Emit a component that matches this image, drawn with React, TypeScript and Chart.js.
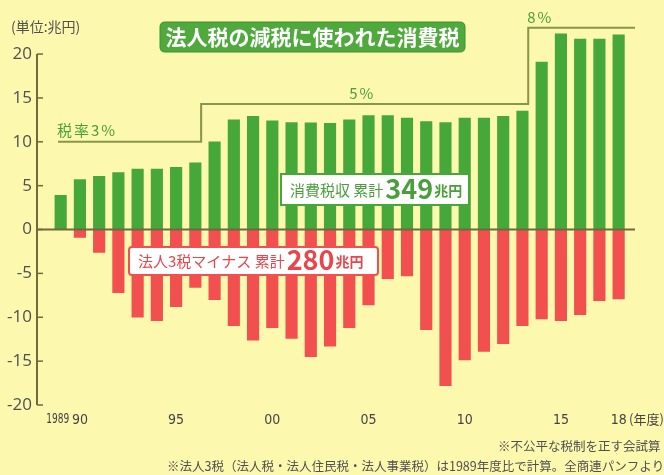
import React, { useEffect, useRef } from "react";
import { Chart, registerables } from "chart.js";

Chart.register(...registerables);

// ---- data ----
const years = [
  1989, 1990, 1991, 1992, 1993, 1994, 1995, 1996, 1997, 1998,
  1999, 2000, 2001, 2002, 2003, 2004, 2005, 2006, 2007, 2008,
  2009, 2010, 2011, 2012, 2013, 2014, 2015, 2016, 2017, 2018,
];
// 消費税収 (兆円)
const consumptionTax = [
  3.9, 5.7, 6.05, 6.5, 6.9, 6.9, 7.1, 7.6, 10.0, 12.5,
  12.9, 12.4, 12.2, 12.15, 12.1, 12.5, 13.0, 13.0, 12.7, 12.3,
  12.2, 12.7, 12.7, 12.9, 13.5, 19.1, 22.3, 21.7, 21.7, 22.2,
];
// 法人3税マイナス (兆円)
const corporateTaxCut = [
  0, -0.9, -2.6, -7.2, -10.0, -10.4, -8.8, -6.6, -8.0, -10.95,
  -12.6, -11.2, -12.4, -14.5, -13.3, -11.2, -8.6, -5.6, -5.3, -11.4,
  -17.8, -14.85, -13.9, -13.0, -10.95, -10.2, -10.4, -9.7, -8.1, -7.9,
];
// 税率 step line
const rateLabels = ["税率3%", "5%", "8%"];
const rateStartYears = [1989, 1997, 2014];
const rateLineLevels = [10, 14.3, 23];
// axis ticks
const xTickYears = [1989, 1990, 1995, 2000, 2005, 2010, 2015, 2018];
const xTickLabels = ["1989", "90", "95", "00", "05", "10", "15", "18"];
const yTickValues = [-20, -15, -10, -5, 0, 5, 10, 15, 20];

const titleText = "法人税の減税に使われた消費税";
const unitText = "(単位:兆円)";
const greenBoxTexts = ["消費税収 累計", "349", "兆円"];
const redBoxTexts = ["法人3税マイナス 累計", "280", "兆円"];
const footnote1 = "※不公平な税制を正す会試算";
const footnote2 = "※法人3税（法人税・法人住民税・法人事業税）は1989年度比で計算。全商連パンフより。";
const yearUnitText = "(年度)";

// ---- styles ----
const BG = "#fcf8ae";
const GREEN = "#47a83a";
const RED = "#f24f4f";
const AXIS = "#6f6b3c";
const RATE_LINE = "#86964a";
const TEXT_GRAY = "#505050";
const LABEL_GREEN = "#4a9e3c";
const LABEL_RED = "#e8464b";
const JP = '"Noto Sans CJK JP", "Noto Sans", sans-serif';
const TICK_FONT = '"Liberation Sans Narrow", "DejaVu Sans Condensed", "Roboto", sans-serif';

const X_MIN = -1.23;
const X_MAX = 29.85;
const Y_MIN = -20;
const Y_MAX = 24.43;

function buildRateLine() {
  const pts: { x: number; y: number }[] = [];
  for (let p = 0; p < rateStartYears.length; p++) {
    const si = years.indexOf(rateStartYears[p]);
    const startX = p === 0 ? si - 0.14 : si - 0.7;
    const endX =
      p === rateStartYears.length - 1
        ? X_MAX
        : years.indexOf(rateStartYears[p + 1]) - 0.7;
    pts.push({ x: startX, y: rateLineLevels[p] });
    pts.push({ x: endX, y: rateLineLevels[p] });
  }
  return pts;
}

function roundRect(ctx: CanvasRenderingContext2D, x: number, y: number, w: number, h: number, r: number) {
  ctx.beginPath();
  ctx.moveTo(x + r, y);
  ctx.lineTo(x + w - r, y);
  ctx.quadraticCurveTo(x + w, y, x + w, y + r);
  ctx.lineTo(x + w, y + h - r);
  ctx.quadraticCurveTo(x + w, y + h, x + w - r, y + h);
  ctx.lineTo(x + r, y + h);
  ctx.quadraticCurveTo(x, y + h, x, y + h - r);
  ctx.lineTo(x, y + r);
  ctx.quadraticCurveTo(x, y, x + r, y);
  ctx.closePath();
}

function drawBoxText(
  ctx: CanvasRenderingContext2D,
  texts: string[],
  x: number,
  yMid: number,
  color: string
) {
  ctx.fillStyle = color;
  ctx.textAlign = "left";
  ctx.textBaseline = "alphabetic";
  const base = yMid + 6;
  ctx.font = `15px ${JP}`;
  ctx.fillText(texts[0], x, base);
  let cx = x + ctx.measureText(texts[0]).width + 2;
  ctx.font = `bold 27px ${JP}`;
  ctx.fillText(texts[1], cx, base + 3);
  cx += ctx.measureText(texts[1]).width + 1;
  ctx.font = `bold 14px ${JP}`;
  ctx.fillText(texts[2], cx, base);
}

const decorPlugin = {
  id: "decor",
  beforeDraw(chart: any) {
    const ctx = chart.ctx as CanvasRenderingContext2D;
    ctx.save();
    ctx.fillStyle = BG;
    ctx.fillRect(0, 0, chart.width, chart.height);
    ctx.restore();
  },
  afterDatasetsDraw(chart: any) {
    const ctx = chart.ctx as CanvasRenderingContext2D;
    const { chartArea } = chart;
    const xs = chart.scales.x;
    const ys = chart.scales.y;
    ctx.save();

    // y axis line (20 .. -20)
    const yTop = ys.getPixelForValue(yTickValues[yTickValues.length - 1]);
    const yBot = ys.getPixelForValue(yTickValues[0]);
    ctx.strokeStyle = AXIS;
    ctx.lineWidth = 2;
    ctx.beginPath();
    ctx.moveTo(chartArea.left, yTop);
    ctx.lineTo(chartArea.left, yBot);
    ctx.stroke();

    // zero line
    const y0 = ys.getPixelForValue(0);
    ctx.beginPath();
    ctx.moveTo(chartArea.left, y0);
    ctx.lineTo(chartArea.right, y0);
    ctx.stroke();

    // inside tick marks on y axis
    ctx.lineWidth = 1.5;
    for (const v of yTickValues) {
      const py = ys.getPixelForValue(v);
      ctx.beginPath();
      ctx.moveTo(chartArea.left, py);
      ctx.lineTo(chartArea.left + 6, py);
      ctx.stroke();
    }

    // first x label, condensed
    ctx.fillStyle = "#444444";
    ctx.font = `14px ${TICK_FONT}`;
    ctx.textBaseline = "middle";
    ctx.textAlign = "center";
    const fx = xs.getPixelForValue(years.indexOf(xTickYears[0])) - 3;
    ctx.save();
    ctx.translate(fx, 419);
    ctx.scale(0.72, 1);
    ctx.fillText(xTickLabels[0], 0, 0);
    ctx.restore();

    // unit label
    ctx.fillStyle = TEXT_GRAY;
    ctx.font = `14px ${JP}`;
    ctx.textAlign = "left";
    ctx.textBaseline = "middle";
    ctx.fillText(unitText, 11, 27);

    // title box
    roundRect(ctx, 160, 22, 305, 30, 5);
    ctx.fillStyle = "#4fa93c";
    ctx.fill();
    ctx.strokeStyle = "#3f9230";
    ctx.lineWidth = 1;
    ctx.stroke();
    ctx.fillStyle = "#ffffff";
    ctx.font = `bold 21px ${JP}`;
    ctx.textAlign = "center";
    ctx.textBaseline = "middle";
    ctx.fillText(titleText, 312.5, 37.5);

    // rate labels
    ctx.fillStyle = LABEL_GREEN;
    ctx.font = `15px ${JP}`;
    ctx.textAlign = "left";
    ctx.textBaseline = "middle";
    (ctx as any).letterSpacing = "2px";
    const rl = buildRateLine();
    ctx.fillText(rateLabels[0], xs.getPixelForValue(rl[0].x) - 1, ys.getPixelForValue(rateLineLevels[0]) - 12);
    ctx.fillText(rateLabels[1], xs.getPixelForValue(years.indexOf(2004)), ys.getPixelForValue(rateLineLevels[1]) - 11);
    ctx.fillText(rateLabels[2], xs.getPixelForValue(rl[4].x) - 1, ys.getPixelForValue(rateLineLevels[2]) - 10);
    (ctx as any).letterSpacing = "0px";

    // green box
    ctx.fillStyle = "#ffffff";
    ctx.fillRect(281, 174, 188, 31);
    ctx.strokeStyle = GREEN;
    ctx.lineWidth = 2;
    ctx.strokeRect(281, 174, 188, 31);
    drawBoxText(ctx, greenBoxTexts, 290, 189.5, LABEL_GREEN);

    // red box
    ctx.fillStyle = "#ffffff";
    roundRect(ctx, 129, 247, 249, 28, 3);
    ctx.fill();
    ctx.strokeStyle = RED;
    ctx.lineWidth = 2;
    ctx.stroke();
    drawBoxText(ctx, redBoxTexts, 138, 261, LABEL_RED);

    // year unit
    ctx.fillStyle = "#444444";
    ctx.font = `13px ${JP}`;
    ctx.textAlign = "left";
    ctx.textBaseline = "middle";
    ctx.fillText(yearUnitText, 629, 419);

    // footnotes
    ctx.fillStyle = TEXT_GRAY;
    ctx.font = `12.5px ${JP}`;
    ctx.fillText(footnote1, 498, 446);
    ctx.fillText(footnote2, 167, 466);

    ctx.restore();
  },
};

export default function App() {
  const ref = useRef<HTMLCanvasElement>(null);

  useEffect(() => {
    const canvas = ref.current;
    if (!canvas) return;
    const xTickIdx = xTickYears.map((yr) => years.indexOf(yr));
    const chart = new Chart(canvas, {
      type: "bar",
      data: {
        datasets: [
          {
            type: "line",
            data: buildRateLine(),
            borderColor: RATE_LINE,
            borderWidth: 2,
            pointRadius: 0,
            fill: false,
            tension: 0,
            order: 3,
            clip: false,
          } as any,
          {
            type: "bar",
            data: consumptionTax.map((v, i) => ({ x: i, y: v })),
            backgroundColor: GREEN,
            barThickness: 11.5,
            grouped: false,
            order: 1,
          } as any,
          {
            type: "bar",
            data: corporateTaxCut.map((v, i) => ({ x: i, y: v })),
            backgroundColor: RED,
            barThickness: 11.5,
            grouped: false,
            order: 2,
          } as any,
        ],
      },
      options: {
        animation: false,
        responsive: false,
        devicePixelRatio: 1,
        layout: { padding: { left: 0, right: 29, top: 14, bottom: 0 } },
        plugins: { legend: { display: false }, tooltip: { enabled: false } },
        scales: {
          x: {
            type: "linear",
            offset: false,
            bounds: "data",
            min: X_MIN,
            max: X_MAX,
            grid: { display: false, drawTicks: false, offset: false },
            border: { display: false },
            afterBuildTicks: (scale: any) => {
              scale.ticks = xTickIdx.map((v) => ({ value: v }));
            },
            afterFit: (scale: any) => {
              scale.height = 70;
            },
            ticks: {
              autoSkip: false,
              maxRotation: 0,
              padding: 7,
              color: "#444444",
              font: { family: TICK_FONT, size: 14 },
              callback: (_v: any, i: number) => (i === 0 ? "" : xTickLabels[i] ?? ""),
            },
          } as any,
          y: {
            min: Y_MIN,
            max: Y_MAX,
            bounds: "data",
            grid: { display: false, drawTicks: false },
            border: { display: false },
            afterBuildTicks: (scale: any) => {
              scale.ticks = yTickValues.map((v) => ({ value: v }));
            },
            afterFit: (scale: any) => {
              scale.width = 37;
            },
            ticks: {
              padding: 5,
              color: TEXT_GRAY,
              font: { family: '"Open Sans", "Noto Sans", sans-serif', size: 17 },
            },
          } as any,
        },
      },
      plugins: [decorPlugin],
    } as any);
    return () => chart.destroy();
  }, []);

  return (
    <div style={{ position: "fixed", left: 0, top: 0, width: 664, height: 475, background: BG }}>
      <canvas ref={ref} width={664} height={475} style={{ display: "block", width: 664, height: 475 }} />
    </div>
  );
}
